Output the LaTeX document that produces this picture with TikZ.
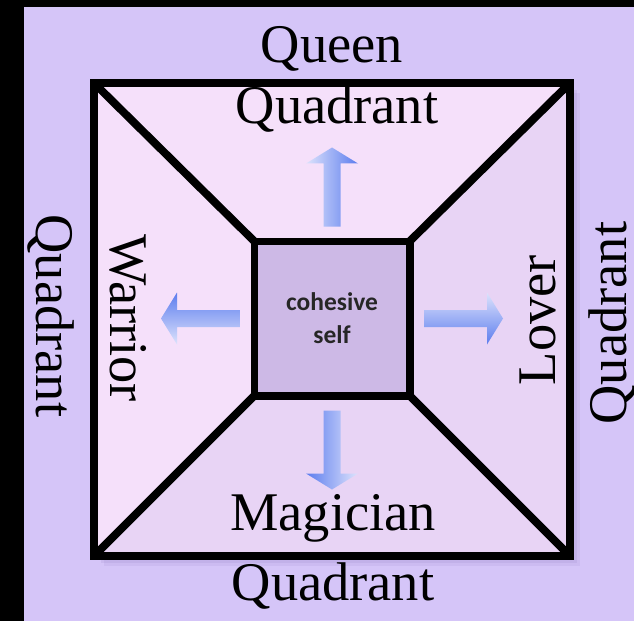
\documentclass[tikz,border=0pt]{standalone}
\usepackage{fontspec}
\setmainfont{Liberation Serif}
\newfontfamily\selffont{Carlito}
\usetikzlibrary{backgrounds,calc}
\definecolor{Lilac}{HTML}{D5C5F8}
\definecolor{PalePink}{HTML}{F5E0FA}
\definecolor{PaleLilac}{HTML}{E8D4F5}
\definecolor{CoreLilac}{HTML}{CDB9E6}
\definecolor{ArrowBlue}{HTML}{5C7CEE}
\definecolor{ArrowFade}{HTML}{DDE3FC}
\definecolor{Shadow}{HTML}{8E78C0}

\begin{document}
\begin{tikzpicture}[x=0.02cm,y=-0.02cm,
      every node/.style={font=\fontsize{31}{36}\selectfont,inner sep=0pt,outer sep=0pt},
      box/.style={draw=black,rectangle,line width=4.5pt},
      qlabel/.style={anchor=base},
      blockarrow/.style={left color=ArrowFade,right color=ArrowBlue}
    ]
      \useasboundingbox (0,0) rectangle (634,621);

      \node[box,minimum width=9.52cm,minimum height=9.46cm] (frame) at (332,319.5) {};
      \node[box,line width=4pt,fill=CoreLilac,minimum width=3.12cm,minimum height=3.10cm,
            font=\selffont\bfseries\fontsize{14.5}{18.8}\selectfont,align=center,
            text=black!85] (self) at (332,318.5) {cohesive\\self};

      \foreach \corner in {north west,north east,south east,south west}
        \draw[line width=4.5pt] (frame.\corner) -- (self.\corner);

      % arrows out of the centre
      \foreach \angle in {90,180,0,270}
        \path[blockarrow,shading angle=\angle,shift={(self.center)},rotate=\angle]
          (92,-8.5) -- (155,-8.5) -- (155,-26) -- (171,0) -- (155,26)
          -- (155,8.5) -- (92,8.5) -- cycle;

      \node[qlabel] (queen) at (332,63) {Queen};
      \node[qlabel] (queenq) at (337,124) {Quadrant};
      \node[qlabel] (magician) at (333,530) {Magician};
      \node[qlabel] (magicianq) at (333,600) {Quadrant};
      \node[qlabel,rotate=-90] (warrior) at (110,318) {Warrior};
      \node[qlabel,rotate=-90] (warriorq) at (36,316) {Quadrant};
      \node[qlabel,rotate=90] (lover) at (555,320) {Lover};
      \node[qlabel,rotate=90] (loverq) at (626,323) {Quadrant};

      \begin{scope}[on background layer]
        \fill[Lilac] (0,0) rectangle (634,621);
        \fill[black] (0,0) rectangle (24,621);
        \fill[black] (0,0) rectangle (634,7);
        \foreach \off/\op in {10/0.12,7/0.15,4/0.2}
          \fill[Shadow,opacity=\op] ($(frame.north west)+(\off,\off)$)
            rectangle ($(frame.south east)+(\off,\off)$);
        \fill[PalePink] (frame.north west) -- (frame.north east)
          -- (self.north east) -- (self.north west) -- cycle;
        \fill[PalePink] (frame.north west) -- (self.north west)
          -- (self.south west) -- (frame.south west) -- cycle;
        \fill[PaleLilac] (frame.north east) -- (frame.south east)
          -- (self.south east) -- (self.north east) -- cycle;
        \fill[PaleLilac] (frame.south west) -- (frame.south east)
          -- (self.south east) -- (self.south west) -- cycle;
      \end{scope}
    \end{tikzpicture}
\end{document}
